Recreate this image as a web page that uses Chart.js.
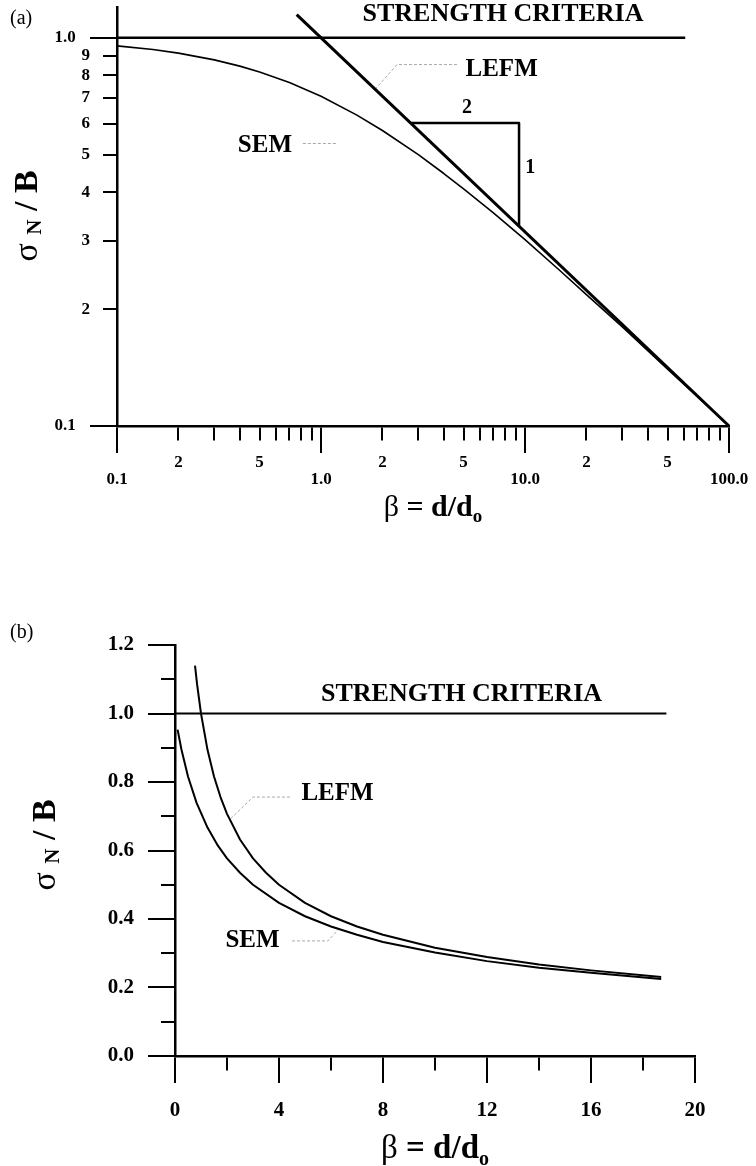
<!DOCTYPE html>
<html>
<head>
<meta charset="utf-8">
<script src="https://cdn.jsdelivr.net/npm/chart.js@4.4.1/dist/chart.umd.min.js"></script>
<style>
  html, body { margin: 0; padding: 0; background: #fff; }
  body { width: 756px; height: 1166px; position: relative; overflow: hidden; }
  canvas { position: absolute; left: 0; }
  #chartA { top: -20px; }
  #chartB { top: 560px; }
</style>
</head>
<body>
<canvas id="chartA" width="756" height="580"></canvas>
<canvas id="chartB" width="756" height="606"></canvas>
<script>
//------------------------------------------------------------
// panel (a) : log-log plot
const ticksXA = [0.1, 0.2, 0.3, 0.4, 0.5, 0.6, 0.7, 0.8, 0.9, 1, 2, 3, 4, 5, 6, 7, 8, 9, 10, 20, 30, 40, 50, 60, 70, 80, 90, 100];
const tickLabelsXA = ['0.1', '2', '', '', '5', '', '', '', '', '1.0', '2', '', '', '5', '', '', '', '', '10.0', '2', '', '', '5', '', '', '', '', '100.0'];
const majorXA = [0.1, 1, 10, 100];
const ticksYA = [0.1, 0.2, 0.3, 0.4, 0.5, 0.6, 0.7, 0.8, 0.9, 1.0];
const tickLabelsYA = ['0.1', '2', '3', '4', '5', '6', '7', '8', '9', '1.0'];
const majorYA = [0.1, 1.0];

const strengthBetaA = [0.1, 61];
const strengthSigmaA = [1, 1];
const lefmBetaA = [0.76, 100];
const lefmSigmaA = [1.147, 0.1];
const semBetaA = [0.1, 0.15, 0.2, 0.3, 0.4, 0.5, 0.7, 1, 1.5, 2, 3, 4, 5, 7, 10, 15, 20, 30, 50, 70, 100];
const semSigmaA = [0.953, 0.933, 0.913, 0.877, 0.845, 0.816, 0.767, 0.707, 0.632, 0.577, 0.5, 0.447, 0.408, 0.354, 0.302, 0.25, 0.218, 0.18, 0.14, 0.119, 0.1];
const slopeBetaA = [2.75, 9.35, 9.35];
const slopeSigmaA = [0.603, 0.603, 0.328];
const lefmLeaderBetaA = [4.64, 2.36, 1.84];
const lefmLeaderSigmaA = [0.853, 0.853, 0.736];
const semLeaderBetaA = [0.815, 1.21];
const semLeaderSigmaA = [0.534, 0.534];
const noteTextA = ['STRENGTH CRITERIA', 'LEFM', 'SEM', '2', '1'];
const noteBetaA = [7.8, 7.68, 0.531, 5.2, 10.6];
const noteSigmaA = [1.148, 0.826, 0.529, 0.659, 0.463];

//------------------------------------------------------------
// panel (b) : linear plot
const ticksXB = [0, 2, 4, 6, 8, 10, 12, 14, 16, 18, 20];
const tickLabelsXB = ['0', '', '4', '', '8', '', '12', '', '16', '', '20'];
const ticksYB = [0, 0.1, 0.2, 0.3, 0.4, 0.5, 0.6, 0.7, 0.8, 0.9, 1.0, 1.1, 1.2];
const tickLabelsYB = ['0.0', '', '0.2', '', '0.4', '', '0.6', '', '0.8', '', '1.0', '', '1.2'];

const strengthBetaB = [0, 18.9];
const strengthSigmaB = [1, 1];
const lefmBetaB = [0.77, 0.85, 1, 1.25, 1.5, 1.75, 2, 2.5, 3, 3.5, 4, 5, 6, 7, 8, 10, 12, 14, 16, 18.7];
const lefmSigmaB = [1.14, 1.085, 1.0, 0.894, 0.816, 0.756, 0.707, 0.632, 0.577, 0.535, 0.5, 0.447, 0.408, 0.378, 0.354, 0.316, 0.289, 0.267, 0.25, 0.231];
const semBetaB = [0.1, 0.25, 0.5, 0.83, 1.25, 1.65, 2, 2.5, 3, 4, 5, 6, 7, 8, 10, 12, 14, 16, 18.7];
const semSigmaB = [0.953, 0.894, 0.816, 0.739, 0.667, 0.614, 0.577, 0.535, 0.5, 0.447, 0.408, 0.378, 0.354, 0.333, 0.302, 0.277, 0.258, 0.243, 0.225];
const lefmLeaderBetaB = [4.42, 3.0, 2.1];
const lefmLeaderSigmaB = [0.756, 0.756, 0.69];
const semLeaderBetaB = [4.5, 5.88, 6.27];
const semLeaderSigmaB = [0.336, 0.336, 0.368];
const noteTextB = ['STRENGTH CRITERIA', 'LEFM', 'SEM'];
const noteBetaB = [11.02, 6.25, 2.98];
const noteSigmaB = [1.055, 0.766, 0.338];

//------------------------------------------------------------
const SERIF = '"Liberation Serif", "Times New Roman", serif';
const INK = '#000';
const LEADER = '#a8a8a8';

const pts = (xs, ys) => xs.map((x, i) => ({ x, y: ys[i] }));
const inList = (list, v) => list.some(m => Math.abs(m - v) < 1e-9);

function curve(data, width, color, dash) {
    return {
        data,
        borderColor: color || INK,
        borderWidth: width,
        borderDash: dash || [],
        pointRadius: 0,
        pointHoverRadius: 0,
        tension: 0,
        fill: false,
        clip: false,
        borderJoinStyle: 'round',
    };
}

// text with a subscript part, optionally rotated to read bottom-up
function drawRich(ctx, parts, cx, baseline, size, vertical) {
    const fontOf = p => `${p.bold ? 'bold ' : ''}${p.sub ? Math.round(size * 0.62) : size}px ${SERIF}`;
    ctx.save();
    ctx.translate(cx, baseline);
    if (vertical) ctx.rotate(-Math.PI / 2);
    ctx.fillStyle = INK;
    ctx.textAlign = 'left';
    ctx.textBaseline = 'alphabetic';
    let total = 0;
    parts.forEach(p => { ctx.font = fontOf(p); total += ctx.measureText(p.t).width; });
    let x = -total / 2;
    parts.forEach(p => {
        ctx.font = fontOf(p);
        ctx.fillText(p.t, x, p.sub ? size * p.sub : 0);
        x += ctx.measureText(p.t).width;
    });
    ctx.restore();
}

function notesPlugin(texts, xs, ys, sizes, extras) {
    return {
        id: 'notes',
        afterDatasetsDraw(chart) {
            const { ctx, scales } = chart;
            ctx.save();
            ctx.fillStyle = INK;
            ctx.textAlign = 'center';
            ctx.textBaseline = 'middle';
            texts.forEach((t, i) => {
                ctx.font = `bold ${sizes[i]}px ${SERIF}`;
                ctx.fillText(t, scales.x.getPixelForValue(xs[i]), scales.y.getPixelForValue(ys[i]));
            });
            ctx.restore();
            extras(ctx);
        }
    };
}

function axisGrid(tickDash) {
    return {
        display: true,
        drawOnChartArea: false,
        drawTicks: true,
        tickLength: 27,
        lineWidth: 2,
        tickWidth: 2,
        tickColor: INK,
        tickBorderDash: tickDash,
    };
}

const axisBorder = { display: true, color: INK, width: 2.5 };

function baseOptions(padding, scales) {
    return {
        responsive: false,
        devicePixelRatio: 1,
        animation: false,
        events: [],
        layout: { padding },
        plugins: { legend: { display: false }, tooltip: { enabled: false } },
        scales,
    };
}

//------------------------------------------------------------
new Chart(document.getElementById('chartA').getContext('2d'), {
    type: 'line',
    data: {
        datasets: [
            curve(pts(strengthBetaA, strengthSigmaA), 2.5),
            curve(pts(semBetaA, semSigmaA), 1.6),
            curve(pts(lefmBetaA, lefmSigmaA), 3),
            curve(pts(slopeBetaA, slopeSigmaA), 2.5),
            curve(pts(lefmLeaderBetaA, lefmLeaderSigmaA), 1, LEADER, [3, 2]),
            curve(pts(semLeaderBetaA, semLeaderSigmaA), 1, LEADER, [3, 2]),
        ],
    },
    options: baseOptions({ left: 0, right: 27, top: 27, bottom: 0 }, {
        x: {
            type: 'logarithmic',
            min: 0.1,
            max: 100,
            afterBuildTicks: s => { s.ticks = ticksXA.map(v => ({ value: v })); },
            afterFit: s => { s.height = 134; },
            grid: axisGrid(c => inList(majorXA, c.tick.value) ? [] : [13, 100]),
            border: axisBorder,
            ticks: {
                autoSkip: false, maxRotation: 0, minRotation: 0, padding: 1.5, color: INK,
                font: { family: SERIF, weight: 'bold', size: 17, lineHeight: 1.0 },
                callback: (v, i) => {
                    const t = tickLabelsXA[i];
                    if (!t) return '';
                    return inList(majorXA, ticksXA[i]) ? ['', t] : t;
                },
            },
        },
        y: {
            type: 'logarithmic',
            min: 0.1,
            max: 1.2,
            afterBuildTicks: s => { s.ticks = ticksYA.map(v => ({ value: v })); },
            afterFit: s => { s.width = 117; },
            grid: axisGrid(c => inList(majorYA, c.tick.value) ? [] : [0, 13, 30, 100]),
            border: axisBorder,
            ticks: {
                autoSkip: false, padding: 0, color: INK,
                font: { family: SERIF, weight: 'bold', size: 17 },
                callback: (v, i) => inList(majorYA, ticksYA[i]) ? tickLabelsYA[i] + '\u2007\u2004' : tickLabelsYA[i],
            },
        },
    }),
    plugins: [notesPlugin(noteTextA, noteBetaA, noteSigmaA, [26, 25, 25, 20, 20], ctx => {
        ctx.save();
        ctx.fillStyle = INK;
        ctx.font = `20px ${SERIF}`;
        ctx.textBaseline = 'middle';
        ctx.fillText('(a)', 10, 39);
        ctx.restore();
        drawRich(ctx, [{ t: 'β' }, { t: ' = d/d', bold: true }, { t: 'o', bold: true, sub: 0.2 }], 433, 536, 30, false);
        drawRich(ctx, [{ t: 'σ' }, { t: ' ' }, { t: 'N', bold: true, sub: 0.12 }, { t: ' / ', bold: true }, { t: 'B', bold: true }], 37, 236, 34, true);
    })],
});

//------------------------------------------------------------
new Chart(document.getElementById('chartB').getContext('2d'), {
    type: 'line',
    data: {
        datasets: [
            curve(pts(strengthBetaB, strengthSigmaB), 2),
            curve(pts(lefmBetaB, lefmSigmaB), 2),
            curve(pts(semBetaB, semSigmaB), 2),
            curve(pts(lefmLeaderBetaB, lefmLeaderSigmaB), 1, LEADER, [3, 2]),
            curve(pts(semLeaderBetaB, semLeaderSigmaB), 1, LEADER, [3, 2]),
        ],
    },
    options: baseOptions({ left: 0, right: 61, top: 85, bottom: 0 }, {
        x: {
            type: 'linear',
            min: 0,
            max: 20,
            afterBuildTicks: s => { s.ticks = ticksXB.map(v => ({ value: v })); },
            afterFit: s => { s.height = 110; },
            grid: axisGrid(c => tickLabelsXB[c.index] ? [] : [13, 100]),
            border: axisBorder,
            ticks: {
                autoSkip: false, maxRotation: 0, minRotation: 0, padding: 15.4, color: INK,
                font: { family: SERIF, weight: 'bold', size: 21 },
                callback: (v, i) => tickLabelsXB[i],
            },
        },
        y: {
            type: 'linear',
            min: 0,
            max: 1.2,
            afterBuildTicks: s => { s.ticks = ticksYB.map(v => ({ value: v })); },
            afterFit: s => { s.width = 175; },
            grid: axisGrid(c => tickLabelsYB[c.index] ? [] : [0, 13, 30, 100]),
            border: axisBorder,
            ticks: {
                autoSkip: false, padding: 14, color: INK,
                font: { family: SERIF, weight: 'bold', size: 21 },
                callback: (v, i) => tickLabelsYB[i],
            },
        },
    }),
    plugins: [notesPlugin(noteTextB, noteBetaB, noteSigmaB, [26, 25, 25], ctx => {
        ctx.save();
        ctx.fillStyle = INK;
        ctx.font = `20px ${SERIF}`;
        ctx.textBaseline = 'middle';
        ctx.fillText('(b)', 10, 73);
        ctx.restore();
        drawRich(ctx, [{ t: 'β' }, { t: ' = d/d', bold: true }, { t: 'o', bold: true, sub: 0.2 }], 435, 598, 33, false);
        drawRich(ctx, [{ t: 'σ' }, { t: ' ' }, { t: 'N', bold: true, sub: 0.12 }, { t: ' / ', bold: true }, { t: 'B', bold: true }], 55, 285, 34, true);
    })],
});
</script>
</body>
</html>
